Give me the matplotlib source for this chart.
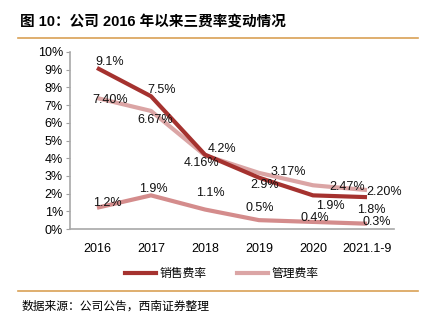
import matplotlib
matplotlib.use("Agg")
import matplotlib.pyplot as plt
from matplotlib.lines import Line2D
from matplotlib.ticker import FuncFormatter

plt.rcParams["font.family"] = ["Liberation Sans", "Noto Sans CJK SC", "DejaVu Sans"]

# ---- data ----
years = ["2016", "2017", "2018", "2019", "2020", "2021.1-9"]
sales_rate = [9.1, 7.5, 4.2, 2.9, 1.9, 1.8]
admin_rate = [7.40, 6.67, 4.16, 3.17, 2.47, 2.20]
third_rate = [1.2, 1.9, 1.1, 0.5, 0.4, 0.3]
sales_labels = ["9.1%", "7.5%", "4.2%", "2.9%", "1.9%", "1.8%"]
admin_labels = ["7.40%", "6.67%", "4.16%", "3.17%", "2.47%", "2.20%"]
third_labels = ["1.2%", "1.9%", "1.1%", "0.5%", "0.4%", "0.3%"]

# label offsets in pixels (dx, dy)
sales_off = [(13, 6), (11, 6), (17, 6), (6, -7), (17, -11), (4, -13)]
admin_off = [(13, -2), (4, -9), (-3, -8), (29, 1), (34, -2), (17, -2)]
third_off = [(10, 5), (2, 6), (5, 17), (1, 12), (2, 4), (10, 2)]

c_sales = "#A5322F"
c_admin = "#DBA5A5"
c_third = "#D48C8C"
c_rule = "#D9A155"

fig = plt.figure(figsize=(4.24, 3.28), dpi=100)
ax = fig.add_axes([70 / 424, 99 / 328, 324 / 424, 177 / 328])

x = list(range(len(years)))
ax.plot(x, admin_rate, color=c_admin, lw=3.0, solid_capstyle="butt", zorder=2)
ax.plot(x, third_rate, color=c_third, lw=3.0, solid_capstyle="butt", zorder=2)
ax.plot(x, sales_rate, color=c_sales, lw=3.0, solid_capstyle="butt", zorder=3)

for vals, labs, offs in [(sales_rate, sales_labels, sales_off),
                         (admin_rate, admin_labels, admin_off),
                         (third_rate, third_labels, third_off)]:
    for i, (v, t, o) in enumerate(zip(vals, labs, offs)):
        ax.annotate(t, (i, v), xytext=o, textcoords="offset pixels",
                    ha="center", va="center", fontsize=9, color="#111111", zorder=4)

ax.set_xlim(-0.5, 5.5)
ax.set_ylim(0, 10)
ax.set_xticks(x)
ax.set_xticklabels(years)
ax.set_yticks(range(0, 11))
ax.yaxis.set_major_formatter(FuncFormatter(lambda v, p: f"{int(v)}%"))
ax.tick_params(axis="y", length=3, width=0.8, color="#A0A0A0", labelsize=9, pad=2)
ax.tick_params(axis="x", length=0, labelsize=9, pad=10)
for s in ["top", "right"]:
    ax.spines[s].set_visible(False)
for s in ["left", "bottom"]:
    ax.spines[s].set_color("#A8A8A8")
    ax.spines[s].set_linewidth(1.2)

# legend
handles = [Line2D([], [], color=c_sales, lw=3.0),
           Line2D([], [], color=c_admin, lw=3.0)]
fig.legend(handles, ["销售费率", "管理费率"], loc="center", ncol=2,
           bbox_to_anchor=(222 / 424, 1 - 274 / 328), frameon=False,
           handlelength=2.6, handletextpad=0.3, columnspacing=2.6,
           prop={"family": ["Noto Sans CJK SC"], "size": 8.5})

# title and rules
fig.text(20 / 424, 1 - 22 / 328, "图 10：公司 2016 年以来三费率变动情况",
         fontsize=10.5, fontweight="bold", va="center", ha="left",
         family=["Liberation Sans", "Noto Sans CJK SC"])
fig.add_artist(Line2D([18 / 424, 418 / 424], [1 - 38 / 328] * 2, color=c_rule, lw=1.2))
fig.add_artist(Line2D([18 / 424, 418 / 424], [1 - 291 / 328] * 2, color=c_rule, lw=1.2))
fig.text(22 / 424, 1 - 306 / 328, "数据来源：公司公告，西南证券整理",
         fontsize=8.5, style="italic", va="center", ha="left",
         family=["Noto Sans CJK SC"])

fig.savefig("out.png", dpi=100)
